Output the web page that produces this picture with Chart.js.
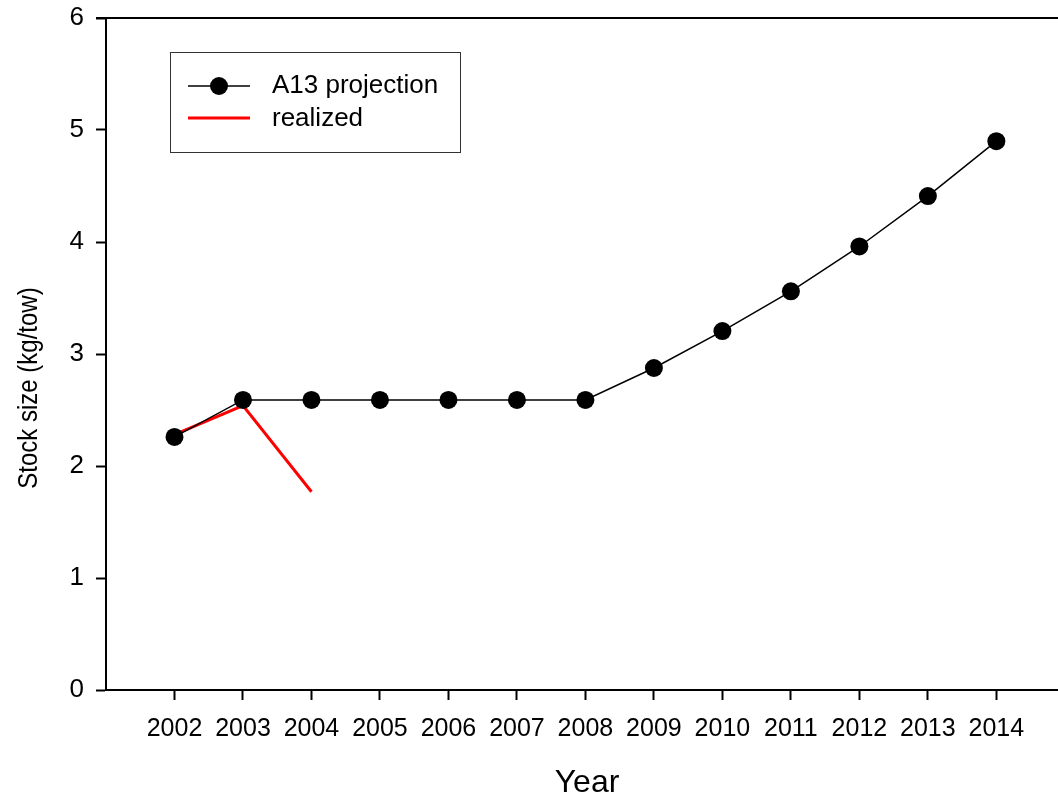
<!DOCTYPE html>
<html>
<head>
<meta charset="utf-8">
<script src="https://cdn.jsdelivr.net/npm/chart.js@4"></script>
<style>
  html, body { margin: 0; padding: 0; background: #fff; }
  #wrap { width: 1058px; height: 802px; position: relative; }
</style>
</head>
<body>
<div id="wrap"><canvas id="myChart" width="1058" height="802"></canvas></div>
<script>
const years = [2002, 2003, 2004, 2005, 2006, 2007, 2008, 2009, 2010, 2011, 2012, 2013, 2014];
const projection = [2.26, 2.59, 2.59, 2.59, 2.59, 2.59, 2.59, 2.875, 3.205, 3.56, 3.96, 4.41, 4.90];
const realizedYears = [2002, 2003, 2004];
const realized = [2.28, 2.54, 1.77];
const yTicks = [0, 1, 2, 3, 4, 5, 6];

document.addEventListener("DOMContentLoaded", function () {
    const ctx = document.getElementById('myChart').getContext('2d');
    const font = 'Liberation Sans, Arial, sans-serif';

    // top frame line, axis titles and boxed legend, drawn by hand
    const frame = {
        id: 'frame',
        afterDraw(chart) {
            const { ctx, chartArea } = chart;
            ctx.save();
            ctx.strokeStyle = '#000';
            ctx.lineWidth = 2;
            ctx.beginPath();
            ctx.moveTo(chartArea.left - 10, chartArea.top);
            ctx.lineTo(chart.width, chartArea.top);
            ctx.stroke();

            // axis titles
            ctx.fillStyle = '#000';
            ctx.textAlign = 'center';
            ctx.textBaseline = 'middle';
            ctx.font = `32px ${font}`;
            ctx.fillText('Year', 587, 783);
            ctx.save();
            ctx.translate(29, 388);
            ctx.rotate(-Math.PI / 2);
            ctx.scale(1, 1.15);
            ctx.font = `24px ${font}`;
            ctx.fillText('Stock size (kg/tow)', 0, 0);
            ctx.restore();

            // legend
            ctx.lineWidth = 1;
            ctx.strokeStyle = '#333';
            ctx.strokeRect(170.5, 52.5, 290, 100);

            ctx.strokeStyle = '#000';
            ctx.lineWidth = 1.5;
            ctx.beginPath();
            ctx.moveTo(188, 86);
            ctx.lineTo(250, 86);
            ctx.stroke();
            ctx.fillStyle = '#000';
            ctx.beginPath();
            ctx.arc(219, 86, 9, 0, Math.PI * 2);
            ctx.fill();

            ctx.strokeStyle = '#ff0000';
            ctx.lineWidth = 3;
            ctx.beginPath();
            ctx.moveTo(188, 118);
            ctx.lineTo(250, 118);
            ctx.stroke();

            ctx.fillStyle = '#000';
            ctx.font = `26px ${font}`;
            ctx.textAlign = 'left';
            ctx.fillText('A13 projection', 272, 86);
            ctx.fillText('realized', 272, 119);
            ctx.restore();
        }
    };

    new Chart(ctx, {
        type: 'line',
        data: {
            datasets: [{
                label: 'A13 projection',
                data: years.map((y, i) => ({ x: y, y: projection[i] })),
                borderColor: '#000',
                backgroundColor: '#000',
                borderWidth: 1.5,
                pointRadius: 9,
                pointHoverRadius: 9,
                pointBackgroundColor: '#000',
                pointBorderWidth: 0,
                tension: 0
            }, {
                label: 'realized',
                data: realizedYears.map((y, i) => ({ x: y, y: realized[i] })),
                borderColor: '#ff0000',
                backgroundColor: '#ff0000',
                borderWidth: 3,
                pointRadius: 0,
                tension: 0
            }]
        },
        options: {
            responsive: false,
            animation: false,
            layout: { autoPadding: false, padding: { top: 18, right: 0, left: 0, bottom: 0 } },
            plugins: {
                legend: { display: false },
                tooltip: { enabled: false }
            },
            scales: {
                x: {
                    type: 'linear',
                    min: 2001,
                    max: 2014.9,
                    afterBuildTicks(axis) {
                        axis.ticks = years.map(v => ({ value: v }));
                    },
                    afterFit(axis) {
                        axis.height = 112;
                        axis.paddingLeft = 0;
                        axis.paddingRight = 0;
                    },
                    grid: {
                        drawOnChartArea: false,
                        drawTicks: true,
                        tickLength: 10,
                        tickWidth: 2,
                        tickColor: '#000'
                    },
                    border: { display: true, color: '#000', width: 2 },
                    ticks: {
                        color: '#000',
                        font: { family: font, size: 25 },
                        padding: 14,
                        maxRotation: 0,
                        autoSkip: false,
                        callback: v => String(v)
                    }
                },
                y: {
                    min: 0,
                    max: 6,
                    afterBuildTicks(axis) {
                        axis.ticks = yTicks.map(v => ({ value: v }));
                    },
                    afterFit(axis) {
                        axis.width = 106;
                        axis.paddingTop = 0;
                        axis.paddingBottom = 0;
                    },
                    grid: {
                        drawOnChartArea: false,
                        drawTicks: true,
                        tickLength: 10,
                        tickWidth: 2,
                        tickColor: '#000'
                    },
                    border: { display: true, color: '#000', width: 2 },
                    ticks: {
                        color: '#000',
                        font: { family: font, size: 26 },
                        padding: 12
                    }
                }
            }
        },
        plugins: [frame]
    });
});
</script>
</body>
</html>
